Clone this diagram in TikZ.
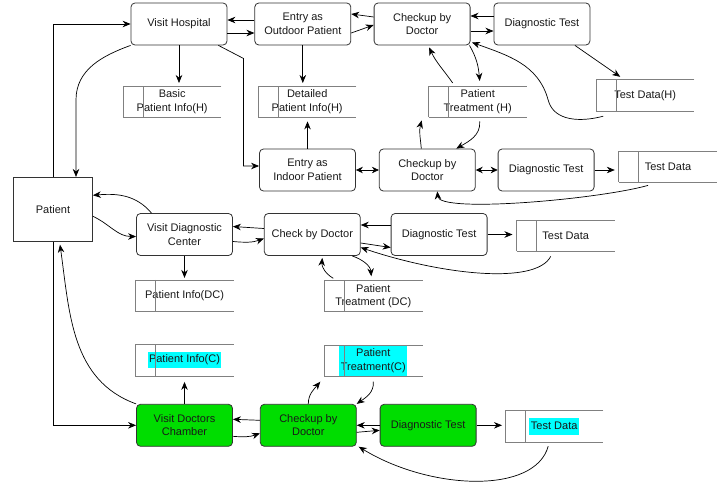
\documentclass[tikz,border=0pt]{standalone}
\usepackage{fontspec}
\setmainfont{Liberation Sans}
\usetikzlibrary{arrows.meta, positioning}

\definecolor{boxgreen}{RGB}{0,221,0}
\definecolor{hlcyan}{RGB}{0,255,255}
\newcommand{\hilite}[1]{{\fboxsep=1.5pt\colorbox{hlcyan}{\begin{tabular}{@{}c@{}}#1\end{tabular}}}}

\begin{document}
\begin{tikzpicture}[
    x=1pt, y=-1pt,
    process/.style={rectangle, rounded corners=4pt, draw=black!80, line width=0.8pt, minimum width=96pt, minimum height=42pt, inner sep=1pt, align=center, text=black!90, font=\fontsize{11}{13.5}\selectfont},
    chamber/.style={process, fill=boxgreen},
    person/.style={rectangle, draw=black!80, line width=0.8pt, minimum width=79pt, minimum height=64pt, text=black!90, font=\fontsize{11}{13.5}\selectfont},
    storeline/.style={-, draw=black!50, line width=0.7pt},
    store/.style={minimum width=98pt, minimum height=31pt, inner sep=0pt, align=center, text=black!90, font=\fontsize{11}{13.5}\selectfont,
        append after command={
            (\tikzlastnode.north east) edge[storeline] (\tikzlastnode.north west)
            (\tikzlastnode.north west) edge[storeline] (\tikzlastnode.south west)
            (\tikzlastnode.south west) edge[storeline] (\tikzlastnode.south east)
            ([xshift=20pt]\tikzlastnode.north west) edge[storeline] ([xshift=20pt]\tikzlastnode.south west)}},
    arrow/.style={-{Stealth[length=8pt, width=6.5pt]}, line width=0.7pt},
    biarrow/.style={{Stealth[length=7pt, width=6.5pt]}-{Stealth[length=7pt, width=6.5pt]}, line width=0.7pt}
]
\useasboundingbox (0,0) rectangle (726,488);

% Processes
\node[process] (hosp) at (179,24) {Visit Hospital};
\node[process, right=27pt of hosp] (outdoor) {Entry as\\Outdoor Patient};
\node[process, right=22.5pt of outdoor] (chkH) {Checkup by\\Doctor};
\node[process, right=23pt of chkH] (diagH) {Diagnostic Test};

\node[process] (indoor) at (307.5,170) {Entry as\\Indoor Patient};
\node[process, right=23pt of indoor] (chkI) {Checkup by\\Doctor};
\node[process, right=22pt of chkI] (diagI) {Diagnostic Test};

\node[person] (patient) at (53,209.3) {Patient};

\node[process] (vdc) at (184.5,234.5) {Visit Diagnostic\\Center};
\node[process, right=31pt of vdc] (chkDC) {Check by Doctor};
\node[process, right=30pt of chkDC] (diagDC) {Diagnostic Test};

\node[chamber] (vdr) at (184.5,425.3) {Visit Doctors\\Chamber};
\node[chamber, right=27pt of vdr] (chkC) {Checkup by\\Doctor};
\node[chamber, right=23pt of chkC] (diagC) {Diagnostic Test};

% Data stores
\node[store] (infoH) at (172.2,101.7) {Basic\\Patient Info(H)};
\node[store] (detH) at (307.2,101.7) {Detailed\\Patient Info(H)};
\node[store] (treatH) at (477.7,101.7) {Patient\\Treatment (H)};
\node[store] (dataH) at (645.2,95.5) {Test Data(H)};
\node[store] (dataI) at (668,166.7) {Test Data};
\node[store] (dataDC) at (565.7,235.7) {Test Data};
\node[store, below=24pt of vdc] (infoDC) {Patient Info(DC)};
\node[store] (treatDC) at (373.3,296) {Patient\\Treatment (DC)};
\node[store, above=28pt of vdr] (infoC) {\hilite{Patient Info(C)}};
\node[store] (treatC) at (373.3,361) {\hilite{Patient\\Treatment(C)}};
\node[store] (dataC) at (554.2,426.5) {\hilite{Test Data}};

% Hospital, outdoor
\draw[arrow] (patient.north) |- (hosp.west);
\draw[arrow] (hosp.south west) to[out=200, in=90] ([xshift=23pt, yshift=77pt]patient.north) -- ([xshift=23pt]patient.north);
\draw[arrow] ([yshift=4pt]outdoor.west) -- ([yshift=4pt]hosp.east);
\draw[arrow] ([yshift=-9pt]hosp.east) -- ([yshift=-9pt]outdoor.west);
\draw[arrow] ([yshift=7pt]chkH.west) -- ([yshift=10pt]outdoor.east);
\draw[arrow] ([yshift=-9pt]outdoor.east) -- ([yshift=-1pt]chkH.west);
\draw[arrow] ([yshift=8pt]diagH.west) -- ([yshift=8pt]chkH.east);
\draw[arrow] ([yshift=-7pt]chkH.east) -- ([yshift=-7pt]diagH.west);
\draw[arrow, shorten >=3pt] (hosp.south) -- (hosp.south |- infoH.north);
\draw[arrow, shorten >=3pt] (outdoor.south) -- (outdoor.south |- detH.north);
\draw[arrow] ([xshift=-25pt, yshift=3pt]treatH.north) to[out=125, in=-65] ([xshift=7pt, yshift=-2pt]chkH.south);
\draw[arrow] ([xshift=-1pt]chkH.south east) to[out=-60, in=95] ([xshift=2pt, yshift=5pt]treatH.north);
\draw[arrow] ([xshift=33pt]diagH.south) -- ([xshift=-25pt, yshift=3pt]dataH.north);
\draw[arrow] ([xshift=-42pt, yshift=-5pt]dataH.south) to[out=195, in=-75] ([xshift=-97pt, yshift=11pt]dataH.south) to[out=105, in=-20] ([xshift=1.5pt, yshift=3pt]chkH.south east);

% Hospital, indoor
\draw[arrow] ([xshift=-9pt]hosp.south east) -- ++(25,13) |- ([yshift=4pt]indoor.west);
\draw[arrow, shorten >=4pt] (indoor.north) -- (indoor.north |- detH.south);
\draw[biarrow] (indoor) -- (chkI);
\draw[biarrow] (chkI) -- (diagI);
\draw[arrow] ([xshift=-6pt]chkI.north) to[out=95, in=-105] ([xshift=-56pt, yshift=-3pt]treatH.south);
\draw[arrow] ([xshift=2pt, yshift=-4pt]treatH.south) to[out=-85, in=30] ([xshift=29pt]chkI.north);
\draw[arrow, shorten >=4pt] (diagI.east) -- (diagI.east -| dataI.west);
\draw[arrow] ([xshift=-20pt, yshift=-3pt]dataI.south) .. controls +(-50,14) and +(2,22) .. ([xshift=10pt]chkI.south);

% Diagnostic center
\draw[arrow] ([yshift=-7pt]patient.east) to[out=-25, in=180] ([yshift=-2pt]vdc.west);
\draw[arrow] ([xshift=-33pt]vdc.north) to[out=130, in=5] ([yshift=14pt]patient.east);
\draw[arrow] ([yshift=6pt]chkDC.west) -- ([yshift=8pt]vdc.east);
\draw[arrow] ([yshift=-7pt]vdc.east) to[out=-5, in=200] ([yshift=-4pt]chkDC.west);
\draw[arrow, shorten >=2pt] (vdc.south) -- (vdc.south |- infoDC.north);
\draw[arrow] ([yshift=9.5pt]diagDC.west) -- ([yshift=9.5pt]chkDC.east);
\draw[arrow] ([yshift=-8.5pt]chkDC.east) -- ([yshift=-13pt]diagDC.west);
\draw[arrow] ([xshift=40pt]chkDC.south) to[out=-20, in=95] ([xshift=-2pt, yshift=4pt]treatDC.north);
\draw[arrow] ([xshift=-40pt, yshift=2pt]treatDC.north) to[out=150, in=-95] ([xshift=10pt, yshift=-2pt]chkDC.south);
\draw[arrow, shorten >=4pt] (diagDC.east) -- (diagDC.east -| dataDC.west);
\draw[arrow] ([xshift=-15pt, yshift=-5pt]dataDC.south) .. controls +(-15,29) and +(80,27) .. ([yshift=-13pt]chkDC.east);

% Doctors chamber
\draw[arrow] (patient.south) |- (vdr.west);
\draw[arrow] (vdr.north west) to[out=160, in=-82] ([xshift=7pt, yshift=-3pt]patient.south);
\draw[arrow, shorten >=6pt] (vdr.north) -- (vdr.north |- infoC.south);
\draw[arrow] ([yshift=5pt]chkC.west) -- ([yshift=6pt]vdr.east);
\draw[arrow] ([yshift=-11pt]vdr.east) to[out=-5, in=200] ([yshift=-8pt]chkC.west);
\draw[arrow] (chkC.north) to[out=90, in=230] ([xshift=-53pt, yshift=-5pt]treatC.south);
\draw[arrow] ([yshift=-5pt]treatC.south) to[out=-85, in=35] (chkC.north east);
\draw[arrow] (diagC.west) -- (chkC.east);
\draw[arrow] ([yshift=-7pt]chkC.east) -- ([yshift=-5pt]diagC.west);
\draw[arrow, shorten >=3pt] (diagC.east) -- (diagC.east -| dataC.west);
\draw[arrow] ([xshift=-6pt, yshift=-4pt]dataC.south) .. controls +(-13,48) and +(72,44) .. ([xshift=2pt]chkC.south east);

\end{tikzpicture}
\end{document}
